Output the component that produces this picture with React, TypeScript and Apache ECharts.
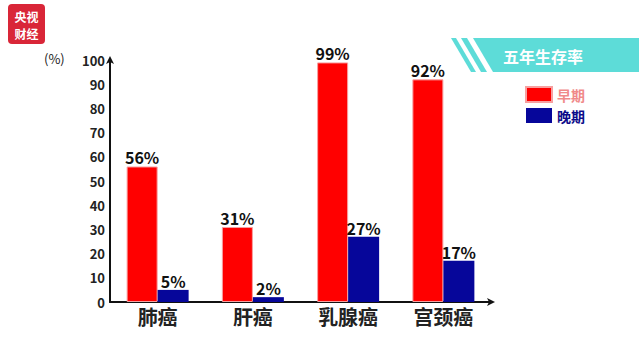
import React, { useEffect, useRef } from "react";
import * as echarts from "echarts";

const categories = ["肺癌", "肝癌", "乳腺癌", "宫颈癌"];
const earlyRates = [56, 31, 99, 92];
const lateRates = [5, 2, 27, 17];
const yTicks = { min: 0, max: 100, interval: 10 };
const seriesNames = ["早期", "晚期"];

const FONT = '"Noto Sans CJK SC", "Noto Sans", sans-serif';

export default function App() {
  const ref = useRef<HTMLDivElement>(null);

  useEffect(() => {
    if (!ref.current) return;
    const chart = echarts.init(ref.current, null, { renderer: "svg" });

    const barLabel = {
      show: true,
      position: "top" as const,
      distance: 1,
      formatter: "{c}%",
      fontFamily: FONT,
      fontWeight: "bold" as const,
      fontSize: 16,
      color: "#111",
    };

    chart.setOption({
      animation: false,
      backgroundColor: "#ffffff",
      grid: { left: 110, right: 148, top: 60, bottom: 58 },
      legend: {
        orient: "vertical",
        left: 520,
        top: 81,
        itemWidth: 26,
        itemHeight: 15,
        itemGap: 5,
        icon: "rect",
        textStyle: { fontFamily: FONT, fontWeight: "bold", fontSize: 14 },
        data: [
          { name: seriesNames[0], textStyle: { color: "#f08a8a" } },
          { name: seriesNames[1], textStyle: { color: "#0c0c8a" } },
        ],
      },
      xAxis: {
        type: "category",
        data: categories,
        axisLine: {
          lineStyle: { color: "#111", width: 2 },
          symbol: ["none", "arrow"],
          symbolSize: [6, 8],
          symbolOffset: [0, 4],
        },
        axisTick: { show: false },
        axisLabel: {
          fontFamily: FONT,
          fontWeight: "bold",
          fontSize: 20,
          color: "#222",
          margin: 4,
        },
      },
      yAxis: {
        type: "value",
        min: yTicks.min,
        max: yTicks.max,
        interval: yTicks.interval,
        splitLine: { show: false },
        axisLine: {
          show: true,
          lineStyle: { color: "#111", width: 2 },
          symbol: ["none", "arrow"],
          symbolSize: [6, 8],
          symbolOffset: [0, 4],
        },
        axisTick: { show: false },
        axisLabel: {
          fontFamily: FONT,
          fontWeight: "bold",
          fontSize: 13,
          color: "#222",
          margin: 5,
        },
      },
      series: [
        {
          name: seriesNames[0],
          type: "bar",
          data: earlyRates,
          barWidth: 31,
          barGap: "0%",
          itemStyle: { color: "#ff0000", borderColor: "#f7a0a0", borderWidth: 1 },
          label: barLabel,
        },
        {
          name: seriesNames[1],
          type: "bar",
          data: lateRates,
          barWidth: 31,
          barGap: "0%",
          itemStyle: { color: "#06069a" },
          label: barLabel,
        },
      ],
      graphic: [
        // channel logo
        {
          type: "rect",
          shape: { x: 8, y: 4, width: 37, height: 40, r: 4 },
          style: { fill: "#d92638" },
        },
        {
          type: "text",
          x: 26.5,
          y: 16,
          style: {
            text: "央视",
            fill: "#ffffff",
            font: `bold 12px ${FONT}`,
            align: "center",
            verticalAlign: "middle",
          },
        },
        {
          type: "text",
          x: 26.5,
          y: 33,
          style: {
            text: "财经",
            fill: "#ffffff",
            font: `bold 12px ${FONT}`,
            align: "center",
            verticalAlign: "middle",
          },
        },
        // unit label
        {
          type: "text",
          x: 44,
          y: 58,
          style: {
            text: "(%)",
            fill: "#222",
            font: `13px ${FONT}`,
            verticalAlign: "middle",
          },
        },
        // title banner
        {
          type: "polygon",
          shape: { points: [[451, 38], [456, 38], [476, 72], [471, 72]] },
          style: { fill: "#5ddcd8" },
        },
        {
          type: "polygon",
          shape: { points: [[461, 38], [467, 38], [487, 72], [481, 72]] },
          style: { fill: "#5ddcd8" },
        },
        {
          type: "polygon",
          shape: { points: [[473, 38], [639, 38], [639, 72], [493, 72]] },
          style: { fill: "#5ddcd8" },
        },
        {
          type: "text",
          x: 543,
          y: 56,
          style: {
            text: "五年生存率",
            fill: "#ffffff",
            font: `bold 16px ${FONT}`,
            align: "center",
            verticalAlign: "middle",
          },
        },
      ],
    });

    return () => chart.dispose();
  }, []);

  return (
    <div
      ref={ref}
      style={{ position: "fixed", left: 0, top: 0, width: 639, height: 360 }}
    />
  );
}
